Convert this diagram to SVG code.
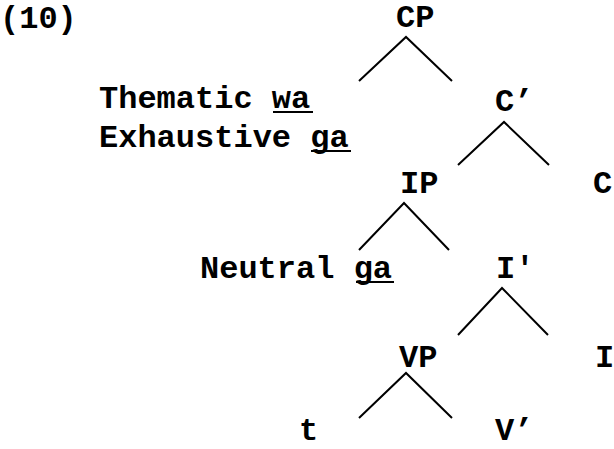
<svg xmlns="http://www.w3.org/2000/svg" width="614" height="449" viewBox="0 0 614 449">
  <style>
    text { font-family: "Liberation Mono", "Courier New", monospace; font-weight: bold; font-size: 32px; fill: #000; }
    .edge { stroke: #000; stroke-width: 2; fill: none; stroke-linecap: butt; }
    .ul { stroke: #000; stroke-width: 2; }
  </style>
  <rect width="614" height="449" fill="#fff"/>

  <!-- example number -->
  <g id="label-10"><text x="0" y="28">(10)</text></g>

  <!-- tree nodes -->
  <g id="CP"><text x="396" y="27">CP</text></g>
  <g id="spec-CP">
    <text x="99" y="108">Thematic wa</text>
    <line class="ul" x1="273" y1="112" x2="313" y2="112"/>
    <text x="99" y="147">Exhaustive ga</text>
    <line class="ul" x1="311" y1="151" x2="351" y2="151"/>
  </g>
  <g id="C-bar"><text x="495" y="111">C’</text></g>
  <g id="IP"><text x="400" y="193">IP</text></g>
  <g id="C"><text x="593" y="193">C</text></g>
  <g id="spec-IP">
    <text x="200" y="278">Neutral ga</text>
    <line class="ul" x1="356" y1="282" x2="394" y2="282"/>
  </g>
  <g id="I-bar"><text x="496" y="278">I'</text></g>
  <g id="VP"><text x="399" y="367">VP</text></g>
  <g id="I"><text x="595" y="367">I</text></g>
  <g id="trace"><text x="299" y="440">t</text></g>
  <g id="V-bar"><text x="495" y="440">V’</text></g>

  <!-- branches -->
  <g id="connectors">
    <polyline class="edge" points="359,81 406,37 452,81"/>
    <polyline class="edge" points="458,165 504,122 549,165"/>
    <polyline class="edge" points="359,250 404,203 449,250"/>
    <polyline class="edge" points="458,335 502,288 548,335"/>
    <polyline class="edge" points="359,418 406,373 452,418"/>
  </g>
</svg>
